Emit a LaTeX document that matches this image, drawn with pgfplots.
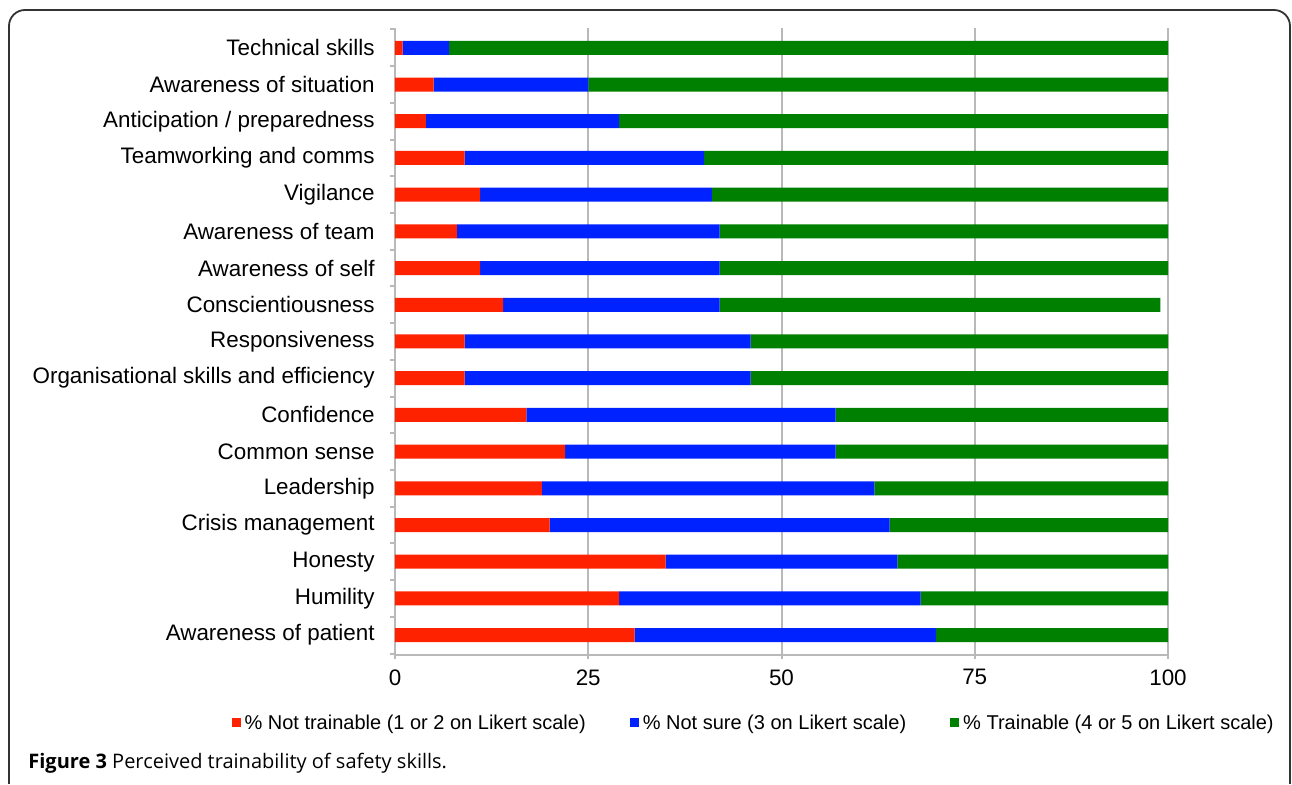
\documentclass[border=0pt]{standalone}
\usepackage{fontspec}
\setmainfont{Liberation Sans}
\newfontfamily\capfont{Open Sans}
\usepackage{pgfplots}
\pgfplotsset{compat=1.18}

\definecolor{barred}{RGB}{255,34,0}
\definecolor{barblue}{RGB}{0,34,255}
\definecolor{bargreen}{RGB}{0,128,0}
\definecolor{gridgray}{RGB}{185,185,185}

\begin{document}
\begin{tikzpicture}
  % page size and the figure frame (open at the bottom)
  \path (0,0) rectangle (646pt,392pt);
  \draw[line width=0.9pt, rounded corners=8pt, black!80]
    (4.5pt,0pt) -- (4.5pt,387pt) -- (645pt,387pt) -- (645pt,0pt);

  \begin{axis}[
      at={(197.5pt,64.5pt)}, anchor=south west,
      scale only axis,
      width=386.5pt, height=313.5pt,
      xbar stacked,
      bar width=7pt,
      xmin=0, xmax=100,
      ymin=-0.54, ymax=16.54,
      xtick={0,25,50,75,100},
      ytick={0,...,16},
      minor ytick={-0.5,0.5,...,16.5},
      yticklabels={Awareness of patient, Humility, Honesty, Crisis management,
        Leadership, Common sense, Confidence, Organisational skills and efficiency,
        Responsiveness, Conscientiousness, Awareness of self, Awareness of team,
        Vigilance, Teamworking and comms, Anticipation / preparedness,
        Awareness of situation, Technical skills},
      axis x line*=bottom, axis y line*=left,
      axis line style={gridgray, line width=1pt, -},
      xmajorgrids=true,
      grid style={gridgray, line width=1pt},
      tick align=outside,
      major tick length=2pt,
      minor tick length=2.5pt,
      tick style={gridgray, line width=1pt},
      major y tick style={draw=none},
      minor y tick style={gridgray, line width=1pt},
      /pgf/number format/assume math mode=true,
      tick label style={font=\fontsize{11.2}{13}\selectfont, text=black},
      yticklabel style={inner sep=0pt, xshift=-8pt},
      xticklabel style={inner sep=0pt, yshift=-5pt},
      legend style={at={(axis description cs:-0.212,-0.11)}, anchor=west,
        draw=none, fill=none, inner sep=0pt,
        legend columns=3,
        font=\fontsize{10}{12}\selectfont,
        /tikz/every even column/.append style={column sep=20pt}},
      legend cell align=left,
      legend image code/.code={\fill[#1] (0pt,-1.5pt) rectangle (4.5pt,3pt);},
    ]
    \addplot[fill=barred, draw=none] coordinates {
      (31,0) (29,1) (35,2) (20,3) (19,4) (22,5) (17,6) (9,7) (9,8)
      (14,9) (11,10) (8,11) (11,12) (9,13) (4,14) (5,15) (1,16)};
    \addplot[fill=barblue, draw=none] coordinates {
      (39,0) (39,1) (30,2) (44,3) (43,4) (35,5) (40,6) (37,7) (37,8)
      (28,9) (31,10) (34,11) (30,12) (31,13) (25,14) (20,15) (6,16)};
    \addplot[fill=bargreen, draw=none] coordinates {
      (30,0) (32,1) (35,2) (36,3) (38,4) (43,5) (43,6) (54,7) (54,8)
      (57,9) (58,10) (58,11) (59,12) (60,13) (71,14) (75,15) (93,16)};
    \legend{\% Not trainable (1 or 2 on Likert scale),
      \% Not sure (3 on Likert scale),
      \% Trainable (4 or 5 on Likert scale)}
  \end{axis}

  \node[anchor=west, inner sep=0pt, font=\capfont\fontsize{10}{12}\selectfont]
    at (14pt,10.5pt) {\textbf{Figure 3} Perceived trainability of safety skills.};
\end{tikzpicture}
\end{document}
